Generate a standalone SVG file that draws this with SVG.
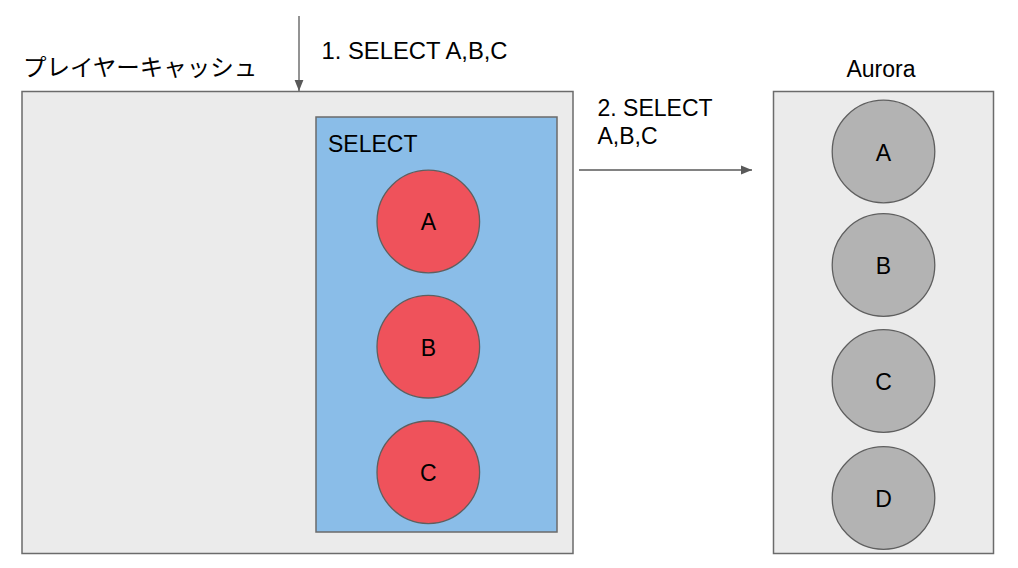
<svg xmlns="http://www.w3.org/2000/svg" width="1018" height="568" viewBox="0 0 1018 568">
<defs>
<style>
.box{fill:#ebebeb;stroke:#6b6b6b;stroke-width:1.5}
.sel{fill:#8abde8;stroke:#6b6b6b;stroke-width:1.5}
.red{fill:#ef525b;stroke:#5f5f5f;stroke-width:1.3}
.gray{fill:#b3b3b3;stroke:#5f5f5f;stroke-width:1.3}
.t{font-family:"Liberation Sans",Arial,sans-serif;font-size:23px;fill:#000}
.w{font-size:23.8px}
.c{text-anchor:middle;dominant-baseline:central}
.jp{font-family:"Noto Sans CJK JP","Liberation Sans",sans-serif;font-size:23.5px;fill:#000}
.arr{stroke:#595959;stroke-width:1.3;fill:none}
</style>
<marker id="ah" viewBox="0 0 10 10" refX="10" refY="5" markerWidth="11" markerHeight="11" markerUnits="userSpaceOnUse" orient="auto">
<path d="M0,1 L10,5 L0,9 Z" fill="#595959"/>
</marker>
</defs>
<rect width="1018" height="568" fill="#ffffff"/>
<g id="cache">
<rect class="box" x="22" y="91.5" width="551" height="462"/>
<text class="jp" x="23" y="76">プレイヤーキャッシュ</text>
</g>
<g id="select">
<rect class="sel" x="316" y="117" width="241" height="415"/>
<text class="t" x="328" y="151.5">SELECT</text>
</g>
<g id="cacheA"><circle class="red" cx="428.3" cy="221.5" r="51.3"/><text class="t c" x="428.3" y="222">A</text></g>
<g id="cacheB"><circle class="red" cx="428.3" cy="346.7" r="51.3"/><text class="t c" x="428.3" y="347.5">B</text></g>
<g id="cacheC"><circle class="red" cx="428.3" cy="472.3" r="51.3"/><text class="t c" x="428.3" y="473">C</text></g>
<g id="aurora">
<rect class="box" x="773.5" y="91.5" width="220" height="462"/>
<text class="t" x="881" y="76.5" text-anchor="middle">Aurora</text>
</g>
<g id="auroraA"><circle class="gray" cx="883.5" cy="151.5" r="51.3"/><text class="t c" x="883.5" y="152.5">A</text></g>
<g id="auroraB"><circle class="gray" cx="883.5" cy="265" r="51.3"/><text class="t c" x="883.5" y="266">B</text></g>
<g id="auroraC"><circle class="gray" cx="883.5" cy="381" r="51.3"/><text class="t c" x="883.5" y="382">C</text></g>
<g id="auroraD"><circle class="gray" cx="883.5" cy="498" r="51.3"/><text class="t c" x="883.5" y="499">D</text></g>
<g id="connectors">
<line class="arr" x1="299" y1="16" x2="299" y2="91" marker-end="url(#ah)"/>
<text class="t w" x="321.5" y="59">1. SELECT A,B,C</text>
<line class="arr" x1="579" y1="170" x2="752" y2="170" marker-end="url(#ah)"/>
<text class="t" x="597.5" y="115.5">2. SELECT</text>
<text class="t" x="597.5" y="143.5">A,B,C</text>
</g>
</svg>
